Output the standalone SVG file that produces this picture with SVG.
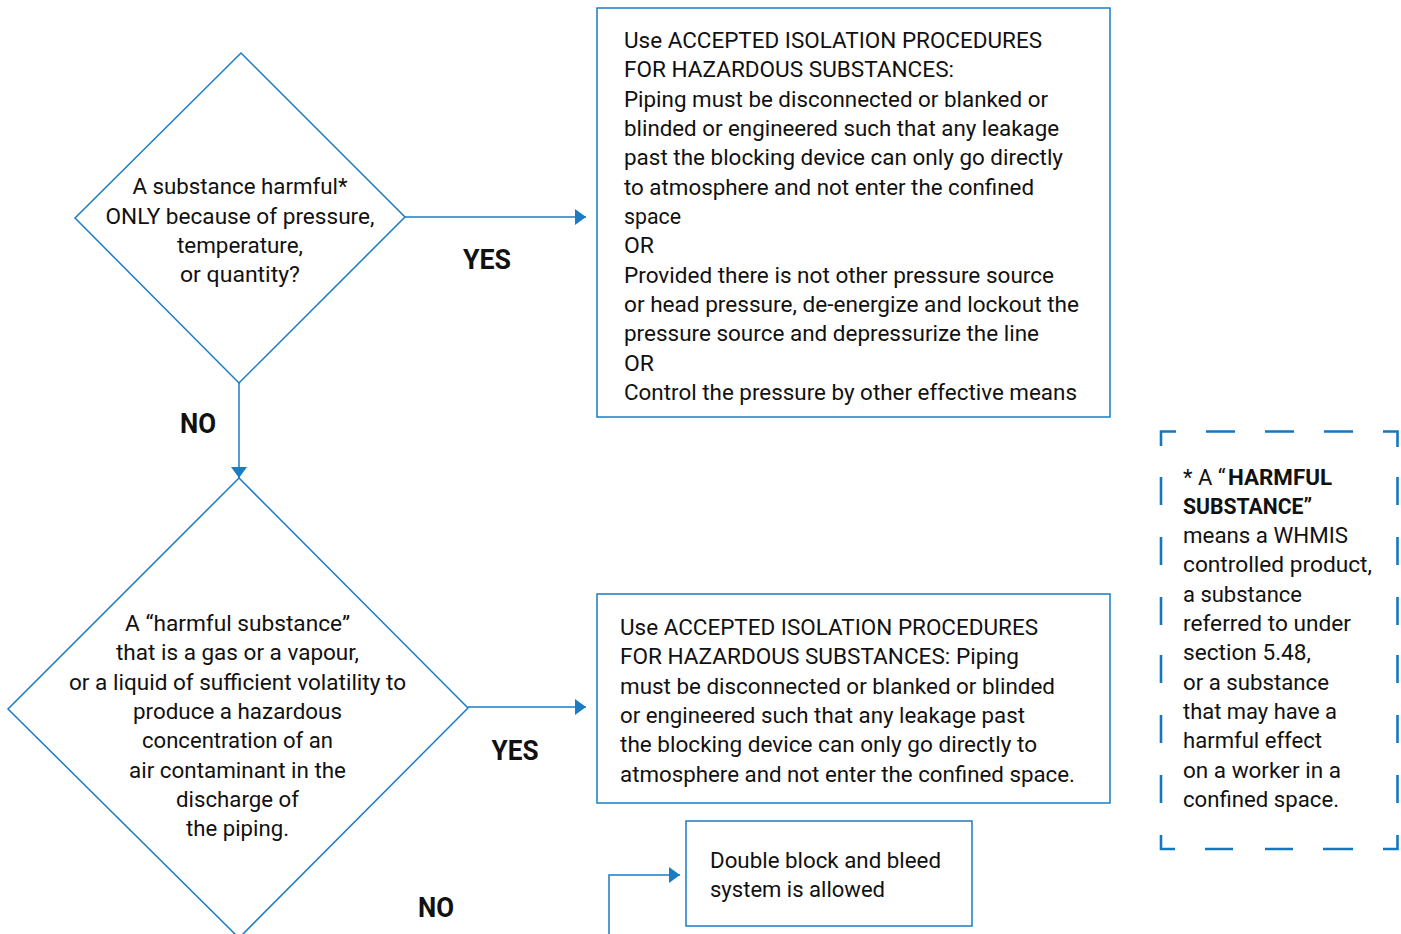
<svg xmlns="http://www.w3.org/2000/svg" width="1401" height="934" viewBox="0 0 1401 934">
<style>
.shape{fill:#fff;stroke:#1b7cc4;stroke-width:1.5}
.conn{fill:none;stroke:#1b7cc4;stroke-width:1.5}
.t{font-family:Roboto,"Liberation Sans",sans-serif;font-size:22px;fill:#111}
.c{text-anchor:middle}
.lbl{font-family:Roboto,"Liberation Sans",sans-serif;font-size:28px;font-weight:bold;fill:#111;text-anchor:middle}
.b{font-weight:bold}
.dash{fill:none;stroke:#1577c0;stroke-width:2.6}
</style>
<defs>
<marker id="ah" markerUnits="userSpaceOnUse" markerWidth="12" markerHeight="18" refX="11" refY="8" orient="auto">
<path d="M0,0 L11,8 L0,16 z" fill="#1b7cc4"/>
</marker>
</defs>
<rect width="1401" height="934" fill="#fff"/>
<g id="connectors">
<path class="conn" d="M405,217 H586" marker-end="url(#ah)"/>
<path class="conn" d="M239,383 V478" marker-end="url(#ah)"/>
<path class="conn" d="M468,707 H586" marker-end="url(#ah)"/>
<path class="conn" d="M609,934 V875 H680" marker-end="url(#ah)"/>
<text class="lbl" x="487" y="269" textLength="48" lengthAdjust="spacingAndGlyphs">YES</text>
<text class="lbl" x="198" y="433" textLength="36" lengthAdjust="spacingAndGlyphs">NO</text>
<text class="lbl" x="515" y="760" textLength="47" lengthAdjust="spacingAndGlyphs">YES</text>
<text class="lbl" x="436" y="917" textLength="36" lengthAdjust="spacingAndGlyphs">NO</text>
</g>
<g id="decision1">
<path class="shape" d="M241,53 L405,217 L239,383 L75,218 z"/>
<text class="t c" x="240" y="194" textLength="215" lengthAdjust="spacingAndGlyphs">A substance harmful*</text>
<text class="t c" x="240" y="224" textLength="269" lengthAdjust="spacingAndGlyphs">ONLY because of pressure,</text>
<text class="t c" x="240" y="253" textLength="126" lengthAdjust="spacingAndGlyphs">temperature,</text>
<text class="t c" x="240" y="282" textLength="120" lengthAdjust="spacingAndGlyphs">or quantity?</text>
</g>
<g id="box1">
<rect class="shape" x="597" y="8" width="513" height="409"/>
<text class="t" x="624" y="48" textLength="418" lengthAdjust="spacingAndGlyphs">Use ACCEPTED ISOLATION PROCEDURES</text>
<text class="t" x="624" y="77.3" textLength="330" lengthAdjust="spacingAndGlyphs">FOR HAZARDOUS SUBSTANCES:</text>
<text class="t" x="624" y="106.7" textLength="424" lengthAdjust="spacingAndGlyphs">Piping must be disconnected or blanked or</text>
<text class="t" x="624" y="136" textLength="435" lengthAdjust="spacingAndGlyphs">blinded or engineered such that any leakage</text>
<text class="t" x="624" y="165.3" textLength="439" lengthAdjust="spacingAndGlyphs">past the blocking device can only go directly</text>
<text class="t" x="624" y="194.7" textLength="410" lengthAdjust="spacingAndGlyphs">to atmosphere and not enter the confined</text>
<text class="t" x="624" y="224" textLength="57" lengthAdjust="spacingAndGlyphs">space</text>
<text class="t" x="624" y="253.3" textLength="30" lengthAdjust="spacingAndGlyphs">OR</text>
<text class="t" x="624" y="282.7" textLength="430" lengthAdjust="spacingAndGlyphs">Provided there is not other pressure source</text>
<text class="t" x="624" y="312" textLength="455" lengthAdjust="spacingAndGlyphs">or head pressure, de-energize and lockout the</text>
<text class="t" x="624" y="341.3" textLength="415" lengthAdjust="spacingAndGlyphs">pressure source and depressurize the line</text>
<text class="t" x="624" y="370.7" textLength="30" lengthAdjust="spacingAndGlyphs">OR</text>
<text class="t" x="624" y="400" textLength="453" lengthAdjust="spacingAndGlyphs">Control the pressure by other effective means</text>
</g>
<g id="decision2">
<path class="shape" d="M239,478 L468,708 L239,938 L8,709 z"/>
<text class="t c" x="237.5" y="631" textLength="225" lengthAdjust="spacingAndGlyphs">A “harmful substance”</text>
<text class="t c" x="237.5" y="660.3" textLength="243" lengthAdjust="spacingAndGlyphs">that is a gas or a vapour,</text>
<text class="t c" x="237.5" y="689.7" textLength="337" lengthAdjust="spacingAndGlyphs">or a liquid of sufficient volatility to</text>
<text class="t c" x="237.5" y="719" textLength="209" lengthAdjust="spacingAndGlyphs">produce a hazardous</text>
<text class="t c" x="237.5" y="748.3" textLength="191" lengthAdjust="spacingAndGlyphs">concentration of an</text>
<text class="t c" x="237.5" y="777.7" textLength="217" lengthAdjust="spacingAndGlyphs">air contaminant in the</text>
<text class="t c" x="237.5" y="807" textLength="123" lengthAdjust="spacingAndGlyphs">discharge of</text>
<text class="t c" x="237.5" y="836.3" textLength="103" lengthAdjust="spacingAndGlyphs">the piping.</text>
</g>
<g id="box2">
<rect class="shape" x="597" y="594" width="513" height="209"/>
<text class="t" x="620" y="635" textLength="418" lengthAdjust="spacingAndGlyphs">Use ACCEPTED ISOLATION PROCEDURES</text>
<text class="t" x="620" y="664.3" textLength="399" lengthAdjust="spacingAndGlyphs">FOR HAZARDOUS SUBSTANCES: Piping</text>
<text class="t" x="620" y="693.7" textLength="435" lengthAdjust="spacingAndGlyphs">must be disconnected or blanked or blinded</text>
<text class="t" x="620" y="723" textLength="405" lengthAdjust="spacingAndGlyphs">or engineered such that any leakage past</text>
<text class="t" x="620" y="752.3" textLength="417" lengthAdjust="spacingAndGlyphs">the blocking device can only go directly to</text>
<text class="t" x="620" y="781.7" textLength="455" lengthAdjust="spacingAndGlyphs">atmosphere and not enter the confined space.</text>
</g>
<g id="box3">
<rect class="shape" x="686" y="821" width="286" height="105"/>
<text class="t" x="710" y="868" textLength="231" lengthAdjust="spacingAndGlyphs">Double block and bleed</text>
<text class="t" x="710" y="897.3" textLength="175" lengthAdjust="spacingAndGlyphs">system is allowed</text>
</g>
<g id="note">
<path class="dash" d="M1176,431.5 H1161 V446 M1206,431.5 H1235 M1265,431.5 H1294 M1324,431.5 H1353 M1383,431.5 H1397.5 V447
M1161,477 V505 M1161,537 V565 M1161,597 V625 M1161,655 V683 M1161,715 V743 M1161,775 V803 M1161,835 V849 H1175
M1397.5,477 V505 M1397.5,537 V565 M1397.5,597 V625 M1397.5,655 V683 M1397.5,715 V743 M1397.5,775 V803 M1397.5,835 V849 H1383
M1205,849 H1233 M1265,849 H1293 M1323,849 H1353"/>
<text class="t" x="1183" y="484.5">* A “</text>
<text class="t b" x="1228" y="484.5" textLength="104" lengthAdjust="spacingAndGlyphs">HARMFUL</text>
<text class="t b" x="1183" y="513.8" textLength="129" lengthAdjust="spacingAndGlyphs">SUBSTANCE”</text>
<text class="t" x="1183" y="543.1" textLength="165" lengthAdjust="spacingAndGlyphs">means a WHMIS</text>
<text class="t" x="1183" y="572.4" textLength="189" lengthAdjust="spacingAndGlyphs">controlled product,</text>
<text class="t" x="1183" y="601.7" textLength="119" lengthAdjust="spacingAndGlyphs">a substance</text>
<text class="t" x="1183" y="631" textLength="168" lengthAdjust="spacingAndGlyphs">referred to under</text>
<text class="t" x="1183" y="660.3" textLength="128" lengthAdjust="spacingAndGlyphs">section 5.48,</text>
<text class="t" x="1183" y="689.6" textLength="146" lengthAdjust="spacingAndGlyphs">or a substance</text>
<text class="t" x="1183" y="718.9" textLength="154" lengthAdjust="spacingAndGlyphs">that may have a</text>
<text class="t" x="1183" y="748.2" textLength="139" lengthAdjust="spacingAndGlyphs">harmful effect</text>
<text class="t" x="1183" y="777.5" textLength="158" lengthAdjust="spacingAndGlyphs">on a worker in a</text>
<text class="t" x="1183" y="806.8" textLength="156" lengthAdjust="spacingAndGlyphs">confined space.</text>
</g>
</svg>
